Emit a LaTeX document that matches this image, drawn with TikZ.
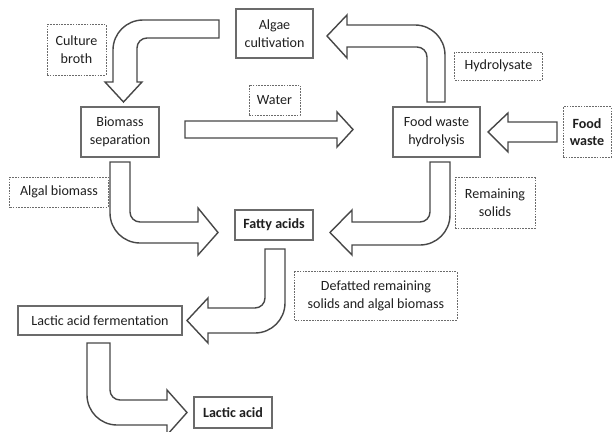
\documentclass[tikz,border=0pt]{standalone}
\usepackage{fontspec}
\setmainfont{Carlito}
\usepackage{tikz}
\usetikzlibrary{calc}
\definecolor{boxgray}{gray}{0.42}
\definecolor{arrowgray}{gray}{0.28}
\tikzset{
	procbox/.style={draw=boxgray, line width=0.75pt, align=center, inner sep=1pt, text=black!88, font=\fontsize{10}{13}\selectfont},
	labelbox/.style={procbox, line width=0.7pt, dash pattern=on 1.2pt off 0.8pt},
	blockarrow/.style={draw=arrowgray, fill=white, line width=1pt, line join=miter}
}

\begin{document}
\begin{tikzpicture}[x=0.025cm, y=-0.025cm]
		%%%%% START %%%%%
		\useasboundingbox (0, 0) rectangle (613, 432);
		
		% process boxes
		\node[procbox, minimum width=1.925cm, minimum height=1.225cm] (algae) at (274.5, 33.5) {Algae\\cultivation};
		\node[procbox, minimum width=1.95cm, minimum height=1.25cm] (biomass) at (120, 132) {Biomass\\separation};
		\node[procbox, minimum width=2.175cm, minimum height=1.25cm] (hydrolysis) at (436.5, 132) {Food waste\\hydrolysis};
		\node[procbox, minimum width=1.95cm, minimum height=0.75cm, font=\bfseries] (fatty) at (274, 225) {Fatty acids};
		\node[procbox, minimum width=4.1cm, minimum height=0.725cm] (fermentation) at (100, 320.5) {Lactic acid fermentation};
		\node[procbox, minimum width=1.95cm, minimum height=0.775cm, font=\bfseries] (lactic) at (233, 412.5) {Lactic acid};
		
		% stream labels
		\node[labelbox, minimum width=1.475cm, minimum height=1.25cm] (broth) at (76.5, 50) {Culture\\broth};
		\node[labelbox, minimum width=1.275cm, minimum height=0.75cm] (water) at (274.5, 100) {Water};
		\node[labelbox, minimum width=2.175cm, minimum height=0.7cm] (hydrolysate) at (498.5, 66) {Hydrolysate};
		\node[labelbox, minimum width=1.2cm, minimum height=1.25cm, font=\bfseries] (foodwaste) at (587, 132) {Food\\waste};
		\node[labelbox, minimum width=2.45cm, minimum height=0.75cm] (algal) at (59, 192) {Algal biomass};
		\node[labelbox, minimum width=2.0cm, minimum height=1.25cm] (solids) at (495, 203) {Remaining\\solids};
		\node[labelbox, minimum width=4.05cm, minimum height=1.2cm] (defatted) at (376, 296) {Defatted remaining\\solids and algal biomass};
		
		% algae cultivation -> biomass separation
		\draw[blockarrow] (219, 20) -- (143, 20) arc[start angle=90, end angle=180, radius=0.75cm] -- (113, 82) -- (105, 82) -- (123.5, 102) -- (142, 82) -- (137, 82) -- (137, 48) arc[start angle=180, end angle=90, radius=0.25cm] -- (219, 38) -- cycle;
		
		% water
		\draw[blockarrow] (185, 121) -- (337, 121) -- (337, 112) -- (353, 129.5) -- (337, 147) -- (337, 138) -- (185, 138) -- cycle;
		
		% food waste
		\draw[blockarrow] (557, 122) -- (508, 122) -- (508, 113) -- (488, 132) -- (508, 152) -- (508, 142) -- (557, 142) -- cycle;
		
		% hydrolysate
		\draw[blockarrow] (427, 102) -- (445, 102) -- (445, 55) arc[start angle=0, end angle=90, radius=0.75cm] -- (347, 25) -- (347, 15) -- (327, 36) -- (347, 58) -- (347, 47) -- (417, 47) arc[start angle=90, end angle=0, radius=0.25cm] -- cycle;
		
		% remaining solids
		\draw[blockarrow] (430, 162) -- (450, 162) -- (450, 215) arc[start angle=0, end angle=-90, radius=0.75cm] -- (352, 245) -- (352, 255) -- (330, 232.5) -- (352, 210) -- (352, 222) -- (420, 222) arc[start angle=-90, end angle=0, radius=0.25cm] -- cycle;
		
		% algal biomass
		\draw[blockarrow] (110, 162) -- (110, 213) arc[start angle=180, end angle=270, radius=0.75cm] -- (198, 243) -- (198, 255) -- (218, 232.5) -- (198, 208) -- (198, 222) -- (140, 222) arc[start angle=270, end angle=180, radius=0.25cm] -- (130, 162) -- cycle;
		
		% defatted solids and biomass
		\draw[blockarrow] (265, 249) -- (285, 249) -- (285, 303) arc[start angle=0, end angle=-90, radius=0.75cm] -- (208, 333) -- (208, 343) -- (187, 320.5) -- (208, 298) -- (208, 308) -- (255, 308) arc[start angle=-90, end angle=0, radius=0.25cm] -- cycle;
		
		% lactic acid
		\draw[blockarrow] (87, 343) -- (87, 395) arc[start angle=180, end angle=270, radius=0.75cm] -- (167, 425) -- (167, 435) -- (187, 412.5) -- (167, 390) -- (167, 400) -- (120, 400) arc[start angle=270, end angle=180, radius=0.25cm] -- (110, 343) -- cycle;
		
		%%%%% END %%%%%
	\end{tikzpicture}
\end{document}
